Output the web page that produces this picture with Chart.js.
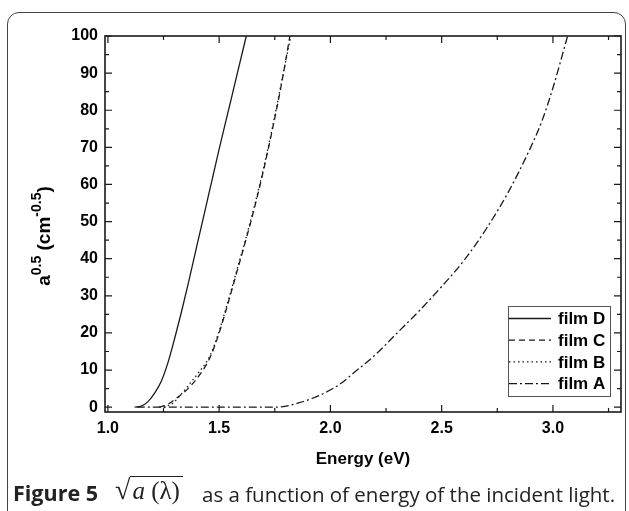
<!DOCTYPE html>
<html><head><meta charset="utf-8">
<script src="https://cdn.jsdelivr.net/npm/chart.js@4"></script>
<style>
html,body{margin:0;padding:0;background:#fff;}
#wrap{position:relative;width:629px;height:511px;overflow:hidden;}
#frame{position:absolute;left:7px;top:12px;width:619px;height:520px;border:1.5px solid #444;border-radius:12px;box-sizing:border-box;}
#c{position:absolute;left:0;top:0;}
.cap{position:absolute;top:480px;font-family:"Open Sans",sans-serif;color:#222;white-space:nowrap;line-height:normal;}
.rt{font-family:"Liberation Serif",serif;font-size:25px;top:474px;}
.ov{border-top:1.3px solid #222;padding:0 3px 0 2px;}
</style></head>
<body><div id="wrap"><div id="frame"></div><canvas id="c" width="629" height="511"></canvas>
<div class="cap" style="left:13px;top:478px;font-size:21.5px;font-weight:700;">Figure 5</div>
<div class="cap rt" style="left:115px;"><span style="font-size:28px">&radic;</span><span class="ov"><i>a</i> (&lambda;)</span></div>
<div class="cap" style="left:202px;font-size:20.5px;">as a function of energy of the incident light.</div>
</div>
<script>
const seriesNames = ["film D","film C","film B","film A"];
const filmD = [[1.12,0],[1.15,0.3],[1.18,1.5],[1.21,3.8],[1.24,7],[1.27,12],[1.30,18.5],[1.33,25.5],[1.36,33],[1.40,43.5],[1.45,56.5],[1.50,69.5],[1.55,82],[1.59,92],[1.622,100]];
const filmC = [[1.23,0],[1.27,0.8],[1.31,2.5],[1.36,5],[1.41,8.5],[1.46,13.5],[1.50,20],[1.54,28],[1.58,36.5],[1.62,45],[1.66,54],[1.70,64],[1.74,75],[1.78,87],[1.818,100]];
const filmB = [[1.25,0],[1.29,1],[1.33,3.5],[1.37,6.5],[1.41,9.5],[1.46,14],[1.50,20.5],[1.54,28.5],[1.58,37],[1.62,45.5],[1.66,54.5],[1.70,64.5],[1.74,75.5],[1.78,87.5],[1.822,100]];
const filmA = [[1.13,0],[1.75,0],[1.80,0.3],[1.86,1.2],[1.92,2.4],[1.98,4],[2.05,6.5],[2.10,9],[2.20,14],[2.30,20],[2.40,26],[2.50,32.5],[2.60,39.5],[2.70,48],[2.80,58],[2.90,70],[2.95,77],[3.00,86],[3.066,100]];
const xTicks = [1.0,1.5,2.0,2.5,3.0];
const xMinor = [1.25,1.75,2.25,2.75,3.25];
const yTicks = [0,10,20,30,40,50,60,70,80,90,100];
const yMinor = [5,15,25,35,45,55,65,75,85,95];
const xTitle = "Energy (eV)";

const dashes = [[], [6,4], [1.5,3], [8,3,2,3]];
const allData = [filmD, filmC, filmB, filmA];
const ink = '#1a1a1a';
const FF = '"Liberation Sans", Arial, sans-serif';

const datasets = allData.map((d,i)=>({
  label: seriesNames[i],
  data: d.map(p=>({x:p[0],y:p[1]})),
  borderColor: ink, borderWidth: 1.3, borderDash: dashes[i],
  pointRadius: 0, tension: 0.35, cubicInterpolationMode:'monotone', fill:false
}));

const deco = {
  id:'deco',
  afterDraw(chart){
    const ctx = chart.ctx, a = chart.chartArea, xs = chart.scales.x, ys = chart.scales.y;
    ctx.save();
    ctx.strokeStyle = ink; ctx.lineWidth = 1.6;
    ctx.strokeRect(a.left, a.top, a.right-a.left, a.bottom-a.top);
    ctx.lineWidth = 1.2;
    const tk = (vals, len) => {
      vals.forEach(v=>{
        const px = xs.getPixelForValue(v);
        ctx.beginPath(); ctx.moveTo(px,a.bottom); ctx.lineTo(px,a.bottom-len);
        ctx.moveTo(px,a.top); ctx.lineTo(px,a.top+len); ctx.stroke();
      });
    };
    const tky = (vals, len) => {
      vals.forEach(v=>{
        const py = ys.getPixelForValue(v);
        ctx.beginPath(); ctx.moveTo(a.left,py); ctx.lineTo(a.left+len,py);
        ctx.moveTo(a.right,py); ctx.lineTo(a.right-len,py); ctx.stroke();
      });
    };
    tk(xTicks,7); tk(xMinor,4); tky(yTicks,7); tky(yMinor,4);
    // legend
    const lw = 102, lh = 90;
    const lx = a.right - 11 - lw, ly = a.bottom - 16 - lh;
    ctx.fillStyle='#fff'; ctx.fillRect(lx,ly,lw,lh);
    ctx.strokeStyle='#555'; ctx.lineWidth=1; ctx.strokeRect(lx+0.5,ly+0.5,lw,lh);
    ctx.strokeStyle=ink; ctx.lineWidth=1.3;
    ctx.font='bold 17px '+FF;
    ctx.fillStyle='#000'; ctx.textBaseline='middle'; ctx.textAlign='left';
    seriesNames.forEach((n,i)=>{
      const yy = ly + 12.5 + i*21.7;
      ctx.setLineDash(dashes[i]);
      ctx.beginPath(); ctx.moveTo(lx+1,yy); ctx.lineTo(lx+43,yy); ctx.stroke();
      ctx.setLineDash([]);
      ctx.fillText(n, lx+50, yy+1);
    });
    // x title
    ctx.textBaseline='alphabetic';
    ctx.font='bold 17px '+FF;
    ctx.textAlign='center';
    ctx.fillText(xTitle, (a.left+a.right)/2, 464);
    // y title with superscripts
    ctx.translate(50,236);
    ctx.rotate(-Math.PI/2);
    const parts = [["a",19,0],["0.5",14,-9],[" (cm",19,0],["-0.5",14,-9],[")",19,0]];
    let tw=0;
    parts.forEach(p=>{ctx.font='bold '+p[1]+'px '+FF; tw+=ctx.measureText(p[0]).width;});
    let cx=-tw/2; ctx.textAlign='left';
    parts.forEach(p=>{ctx.font='bold '+p[1]+'px '+FF; ctx.fillText(p[0],cx,p[2]); cx+=ctx.measureText(p[0]).width;});
    ctx.restore();
  }
};

new Chart(document.getElementById('c'), {
  type:'line',
  data:{datasets},
  options:{
    responsive:false, animation:false, devicePixelRatio:1,
    layout:{padding:{top:36,right:8,left:0,bottom:0}},
    plugins:{legend:{display:false},tooltip:{enabled:false}},
    scales:{
      x:{type:'linear',min:0.987,max:3.306,
        afterFit(s){s.height=99;},
        afterBuildTicks(s){s.ticks=xTicks.map(v=>({value:v}));},
        grid:{display:false,drawTicks:false},border:{display:false},
        ticks:{padding:7,color:'#000',font:{family:FF,size:16,weight:'bold'},callback:v=>v.toFixed(1),maxRotation:0,autoSkip:false}},
      y:{type:'linear',min:-1.3,max:100,
        afterFit(s){s.width=105;},
        afterBuildTicks(s){s.ticks=yTicks.map(v=>({value:v}));},
        grid:{display:false,drawTicks:false},border:{display:false},
        ticks:{padding:7,color:'#000',font:{family:FF,size:16,weight:'bold'},autoSkip:false}}
    }
  },
  plugins:[deco]
});
</script></body></html>
